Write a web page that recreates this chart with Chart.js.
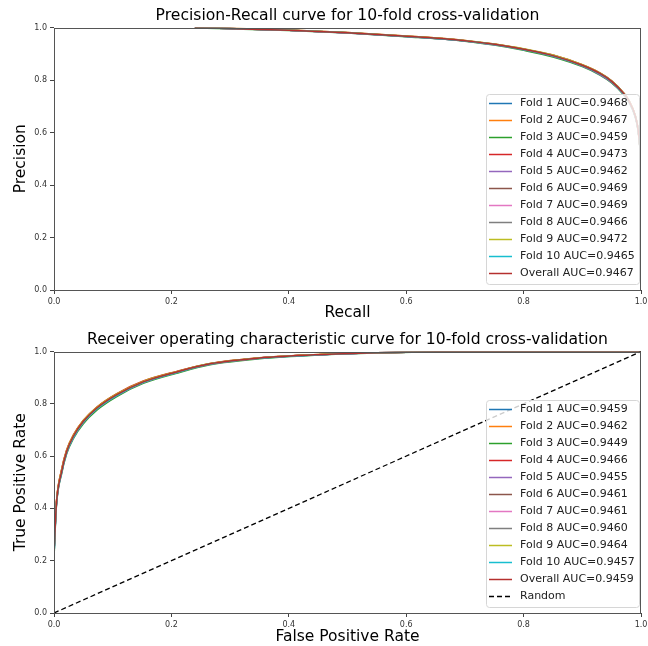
<!DOCTYPE html>
<html>
<head>
<meta charset="utf-8">
<script src="https://cdn.jsdelivr.net/npm/chart.js@4/dist/chart.umd.min.js"></script>
<style>
  html, body { margin: 0; padding: 0; background: #ffffff; }
  #wrap { width: 648px; height: 646px; }
  canvas { display: block; }
</style>
</head>
<body>
<div id="wrap">
  <canvas id="prChart" width="648" height="322"></canvas>
  <canvas id="rocChart" width="648" height="324"></canvas>
</div>
<script>
// --- datos ---
const seriesNames = ['Fold 1', 'Fold 2', 'Fold 3', 'Fold 4', 'Fold 5', 'Fold 6',
                     'Fold 7', 'Fold 8', 'Fold 9', 'Fold 10', 'Overall'];
const prAuc  = [0.9468, 0.9467, 0.9459, 0.9473, 0.9462, 0.9469, 0.9469, 0.9466, 0.9472, 0.9465, 0.9467];
const rocAuc = [0.9459, 0.9462, 0.9449, 0.9466, 0.9455, 0.9461, 0.9461, 0.9460, 0.9464, 0.9457, 0.9459];
const tickValues = [0, 0.2, 0.4, 0.6, 0.8, 1.0];

// Precision-Recall
const recall = [0.24, 0.3, 0.4, 0.5, 0.6, 0.7, 0.75, 0.8, 0.85, 0.9, 0.93, 0.95, 0.97, 0.98, 0.99, 0.995, 1.0];
const precision = [
  [0.999, 0.996, 0.990, 0.980, 0.967, 0.950, 0.936, 0.917, 0.893, 0.856, 0.825, 0.795, 0.750, 0.718, 0.665, 0.612, 0.50],
  [0.999, 0.996, 0.990, 0.980, 0.966, 0.949, 0.935, 0.916, 0.892, 0.855, 0.824, 0.794, 0.749, 0.717, 0.663, 0.610, 0.50],
  [0.998, 0.995, 0.989, 0.979, 0.965, 0.948, 0.933, 0.913, 0.888, 0.851, 0.819, 0.789, 0.745, 0.713, 0.660, 0.607, 0.50],
  [0.999, 0.997, 0.991, 0.981, 0.968, 0.951, 0.937, 0.918, 0.895, 0.858, 0.827, 0.797, 0.752, 0.720, 0.667, 0.614, 0.50],
  [0.999, 0.996, 0.990, 0.979, 0.966, 0.949, 0.934, 0.915, 0.890, 0.853, 0.821, 0.791, 0.747, 0.715, 0.662, 0.609, 0.50],
  [0.999, 0.996, 0.990, 0.980, 0.967, 0.950, 0.936, 0.917, 0.894, 0.857, 0.826, 0.796, 0.751, 0.719, 0.666, 0.613, 0.50],
  [0.999, 0.996, 0.990, 0.980, 0.967, 0.950, 0.936, 0.918, 0.894, 0.857, 0.826, 0.796, 0.750, 0.718, 0.665, 0.612, 0.50],
  [0.999, 0.996, 0.990, 0.980, 0.966, 0.949, 0.935, 0.917, 0.893, 0.856, 0.825, 0.794, 0.749, 0.717, 0.664, 0.611, 0.50],
  [0.999, 0.997, 0.991, 0.981, 0.968, 0.951, 0.937, 0.919, 0.895, 0.858, 0.827, 0.797, 0.752, 0.720, 0.667, 0.614, 0.50],
  [0.999, 0.996, 0.990, 0.980, 0.966, 0.949, 0.935, 0.916, 0.892, 0.855, 0.824, 0.794, 0.749, 0.717, 0.664, 0.611, 0.50],
  [0.999, 0.996, 0.990, 0.980, 0.967, 0.950, 0.936, 0.917, 0.893, 0.856, 0.825, 0.795, 0.750, 0.718, 0.665, 0.612, 0.50]
];

// ROC
const fpr = [0, 0.004, 0.013, 0.0216, 0.033, 0.05, 0.073, 0.107, 0.152, 0.209, 0.266, 0.35, 0.45, 0.55, 0.65, 0.75, 1.0];
const tpr = [
  [0.22, 0.414, 0.541, 0.618, 0.676, 0.733, 0.784, 0.835, 0.884, 0.922, 0.953, 0.975, 0.988, 0.995, 0.999, 1.0, 1.0],
  [0.24, 0.420, 0.548, 0.622, 0.679, 0.735, 0.786, 0.837, 0.885, 0.923, 0.953, 0.975, 0.988, 0.995, 0.999, 1.0, 1.0],
  [0.21, 0.405, 0.532, 0.609, 0.667, 0.724, 0.776, 0.828, 0.878, 0.917, 0.949, 0.972, 0.986, 0.994, 0.999, 1.0, 1.0],
  [0.25, 0.422, 0.550, 0.624, 0.681, 0.737, 0.788, 0.839, 0.887, 0.924, 0.954, 0.976, 0.989, 0.995, 0.999, 1.0, 1.0],
  [0.22, 0.408, 0.536, 0.613, 0.671, 0.728, 0.780, 0.831, 0.881, 0.920, 0.951, 0.974, 0.987, 0.995, 0.999, 1.0, 1.0],
  [0.23, 0.414, 0.541, 0.618, 0.676, 0.734, 0.784, 0.835, 0.884, 0.922, 0.953, 0.975, 0.988, 0.995, 0.999, 1.0, 1.0],
  [0.24, 0.415, 0.542, 0.619, 0.676, 0.733, 0.783, 0.835, 0.883, 0.922, 0.953, 0.975, 0.988, 0.995, 0.999, 1.0, 1.0],
  [0.23, 0.413, 0.540, 0.617, 0.675, 0.732, 0.783, 0.834, 0.883, 0.921, 0.952, 0.975, 0.988, 0.995, 0.999, 1.0, 1.0],
  [0.24, 0.420, 0.546, 0.622, 0.679, 0.736, 0.787, 0.838, 0.886, 0.923, 0.954, 0.976, 0.989, 0.995, 0.999, 1.0, 1.0],
  [0.22, 0.409, 0.537, 0.614, 0.672, 0.730, 0.781, 0.832, 0.882, 0.920, 0.952, 0.974, 0.987, 0.995, 0.999, 1.0, 1.0],
  [0.23, 0.414, 0.541, 0.618, 0.676, 0.733, 0.784, 0.835, 0.884, 0.922, 0.953, 0.975, 0.988, 0.995, 0.999, 1.0, 1.0]
];
const randomX = [0, 1];
const randomY = [0, 1];

// --- estilos ---
const colores = ['#1f77b4', '#ff7f0e', '#2ca02c', '#d62728', '#9467bd', '#8c564b',
                 '#e377c2', '#7f7f7f', '#bcbd22', '#17becf', '#b5302e'];
const FONT = '"DejaVu Sans", Verdana, sans-serif';

// marco completo + leyenda con caja (estilo matplotlib)
const marcoYLeyenda = {
  id: 'marcoYLeyenda',
  afterDraw(chart) {
    const { ctx, chartArea: a } = chart;
    ctx.save();
    ctx.strokeStyle = '#555555';
    ctx.lineWidth = 1;
    ctx.strokeRect(Math.round(a.left) + 0.5, Math.round(a.top) + 0.5,
                   Math.round(a.right - a.left) - 1, Math.round(a.bottom - a.top));

    const items = chart.data.datasets;
    const rowH = 17, w = 153, h = 20 + rowH * (items.length - 1);
    const x = Math.round(a.right - 2 - w), y = Math.round(a.bottom - 6 - h);
    ctx.beginPath();
    ctx.roundRect(x + 0.5, y + 0.5, w, h, 3);
    ctx.fillStyle = 'rgba(255,255,255,0.8)';
    ctx.fill();
    ctx.strokeStyle = '#d6d6d6';
    ctx.stroke();
    ctx.font = '11px ' + FONT;
    ctx.textBaseline = 'middle';
    items.forEach((ds, i) => {
      const cy = y + 9.5 + i * rowH;
      ctx.beginPath();
      ctx.setLineDash(ds.borderDash || []);
      ctx.strokeStyle = ds.borderColor;
      ctx.lineWidth = 1.5;
      ctx.moveTo(x + 3, cy);
      ctx.lineTo(x + 26, cy);
      ctx.stroke();
      ctx.setLineDash([]);
      ctx.fillStyle = '#222222';
      ctx.fillText(ds.label, x + 34, cy);
    });
    ctx.restore();
  }
};

function ejes(xTitulo, yTitulo, xAlto) {
  const tickCfg = {
    autoSkip: false,
    color: '#333333',
    font: { family: FONT, size: 8 },
    padding: 3,
    callback: v => Number(v).toFixed(1)
  };
  return {
    x: {
      type: 'linear', min: 0, max: 1,
      afterBuildTicks: s => { s.ticks = tickValues.map(v => ({ value: v })); },
      ticks: tickCfg,
      grid: { drawOnChartArea: false, drawTicks: true, tickLength: 4, color: '#444444' },
      border: { display: false },
      title: { display: true, text: xTitulo, color: '#000000',
               font: { family: FONT, size: 15.5 }, padding: { top: 0, bottom: 0 } },
      afterFit: s => { s.height = xAlto; s.paddingLeft = 0; s.paddingRight = 0; }
    },
    y: {
      type: 'linear', min: 0, max: 1,
      afterBuildTicks: s => { s.ticks = tickValues.map(v => ({ value: v })); },
      ticks: tickCfg,
      grid: { drawOnChartArea: false, drawTicks: true, tickLength: 4, color: '#444444' },
      border: { display: false },
      title: { display: true, text: yTitulo, color: '#000000',
               font: { family: FONT, size: 15.5 }, padding: { top: 12, bottom: 0 } },
      afterFit: s => { s.width = 54; s.paddingTop = 0; s.paddingBottom = 0; }
    }
  };
}

function curvas(xs, ys, aucs) {
  return ys.map((serie, i) => ({
    label: seriesNames[i] + ' AUC=' + aucs[i].toFixed(4),
    data: xs.map((x, j) => ({ x: x, y: serie[j] })),
    borderColor: colores[i],
    borderWidth: 1.5,
    pointRadius: 0,
    cubicInterpolationMode: 'monotone',
    order: i === ys.length - 1 ? 1 : 12 - i
  }));
}

function opciones(titulo, tituloPad, xTitulo, yTitulo, xAlto) {
  return {
    responsive: false,
    animation: false,
    layout: { padding: { left: 0, right: 7, top: 0, bottom: 0 } },
    scales: ejes(xTitulo, yTitulo, xAlto),
    plugins: {
      legend: { display: false },
      tooltip: { enabled: false },
      title: { display: true, text: titulo, color: '#000000', fullSize: false,
               font: { family: FONT, size: 15.6, weight: 'normal' }, padding: tituloPad }
    }
  };
}

// --- 1. Precision-Recall ---
new Chart(document.getElementById('prChart'), {
  type: 'line',
  data: { datasets: curvas(recall, precision, prAuc) },
  options: opciones('Precision-Recall curve for 10-fold cross-validation',
                    { top: 6.4, bottom: 2.4 }, 'Recall', 'Precision', 32),
  plugins: [marcoYLeyenda]
});

// --- 2. ROC ---
const rocSets = curvas(fpr, tpr, rocAuc);
rocSets.push({
  label: 'Random',
  data: randomX.map((x, j) => ({ x: x, y: randomY[j] })),
  borderColor: '#000000',
  borderWidth: 1.3,
  borderDash: [5, 3],
  pointRadius: 0,
  order: 0
});
new Chart(document.getElementById('rocChart'), {
  type: 'line',
  data: { datasets: rocSets },
  options: opciones('Receiver operating characteristic curve for 10-fold cross-validation',
                    { top: 8.4, bottom: 2.4 }, 'False Positive Rate', 'True Positive Rate', 33),
  plugins: [marcoYLeyenda]
});
</script>
</body>
</html>
